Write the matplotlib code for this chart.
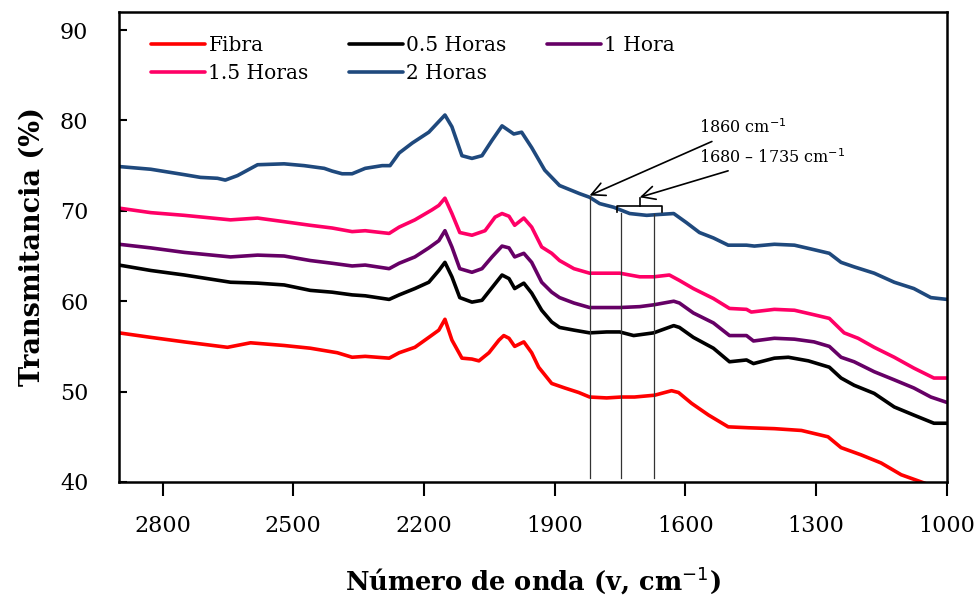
import matplotlib
matplotlib.use('Agg')
import matplotlib.pyplot as plt
import numpy as np

# # wavenumber / transmittance
fibra_x = [2900, 2827, 2750, 2651, 2598, 2521, 2461, 2399, 2365, 2335, 2280, 2257, 2221, 2189,
           2166, 2152, 2136, 2113, 2090, 2074, 2051, 2028, 2017, 2005, 1992, 1971, 1953, 1937,
           1907, 1877, 1845, 1820, 1781, 1747, 1717, 1671, 1632, 1616, 1586, 1547, 1502, 1456,
           1396, 1334, 1273, 1243, 1197, 1151, 1105, 1053, 1000]
fibra_y = [56.5, 56.0, 55.5, 54.9, 55.4, 55.1, 54.8, 54.3, 53.8, 53.9, 53.7, 54.3, 54.9, 56.0,
           56.8, 58.0, 55.7, 53.7, 53.6, 53.4, 54.3, 55.7, 56.2, 55.9, 55.0, 55.5, 54.3, 52.7,
           50.9, 50.4, 49.9, 49.4, 49.3, 49.4, 49.4, 49.6, 50.1, 49.9, 48.7, 47.4, 46.1, 46.0,
           45.9, 45.7, 45.0, 43.8, 43.0, 42.1, 40.8, 39.9, 38.9]

h05_x = [2900, 2827, 2750, 2644, 2582, 2521, 2461, 2411, 2365, 2335, 2280, 2257, 2221, 2189,
         2166, 2152, 2136, 2118, 2090, 2067, 2044, 2021, 2005, 1992, 1971, 1953, 1930, 1907,
         1889, 1856, 1820, 1781, 1751, 1719, 1673, 1627, 1614, 1582, 1536, 1499, 1460, 1444,
         1396, 1364, 1318, 1270, 1243, 1213, 1167, 1121, 1076, 1030, 1000]
h05_y = [64.0, 63.4, 62.9, 62.1, 62.0, 61.8, 61.2, 61.0, 60.7, 60.6, 60.2, 60.7, 61.4, 62.1,
         63.4, 64.3, 62.7, 60.4, 59.9, 60.1, 61.5, 62.9, 62.5, 61.4, 62.0, 60.9, 59.0, 57.7,
         57.1, 56.8, 56.5, 56.6, 56.6, 56.2, 56.5, 57.3, 57.1, 56.0, 54.8, 53.3, 53.5, 53.1,
         53.7, 53.8, 53.4, 52.7, 51.5, 50.7, 49.8, 48.3, 47.4, 46.5, 46.5]

h1_x = [2900, 2827, 2750, 2644, 2582, 2521, 2461, 2411, 2365, 2335, 2280, 2257, 2221, 2189,
        2166, 2152, 2136, 2118, 2090, 2067, 2044, 2021, 2005, 1992, 1971, 1953, 1930, 1907,
        1889, 1856, 1820, 1751, 1705, 1673, 1627, 1614, 1582, 1536, 1499, 1460, 1444, 1396,
        1350, 1305, 1270, 1243, 1213, 1167, 1121, 1076, 1037, 1000]
h1_y = [66.3, 65.9, 65.4, 64.9, 65.1, 65.0, 64.5, 64.2, 63.9, 64.0, 63.6, 64.2, 64.9, 65.9,
        66.7, 67.8, 66.0, 63.6, 63.2, 63.6, 64.9, 66.1, 65.9, 64.9, 65.3, 64.3, 62.1, 61.0,
        60.4, 59.8, 59.3, 59.3, 59.4, 59.6, 60.0, 59.8, 58.7, 57.6, 56.2, 56.2, 55.6, 55.9,
        55.8, 55.5, 55.0, 53.8, 53.3, 52.2, 51.3, 50.4, 49.4, 48.8]

h15_x = [2900, 2827, 2750, 2644, 2582, 2521, 2461, 2411, 2365, 2335, 2280, 2257, 2221, 2182,
         2166, 2152, 2136, 2118, 2090, 2060, 2037, 2021, 2005, 1992, 1971, 1953, 1930, 1907,
         1889, 1856, 1820, 1751, 1705, 1673, 1637, 1614, 1582, 1536, 1499, 1460, 1449, 1396,
         1350, 1305, 1270, 1236, 1204, 1167, 1121, 1076, 1030, 1000]
h15_y = [70.3, 69.8, 69.5, 69.0, 69.2, 68.8, 68.4, 68.1, 67.7, 67.8, 67.5, 68.2, 69.0, 70.1,
         70.6, 71.4, 69.7, 67.6, 67.3, 67.8, 69.3, 69.7, 69.4, 68.4, 69.2, 68.2, 66.0, 65.3,
         64.5, 63.6, 63.1, 63.1, 62.7, 62.7, 62.9, 62.3, 61.4, 60.3, 59.2, 59.1, 58.8, 59.1,
         59.0, 58.5, 58.1, 56.5, 55.9, 54.9, 53.8, 52.6, 51.5, 51.5]

h2_x = [2900, 2827, 2750, 2713, 2674, 2656, 2628, 2582, 2521, 2475, 2429, 2411, 2388, 2365,
        2335, 2296, 2278, 2257, 2227, 2189, 2152, 2136, 2113, 2090, 2067, 2044, 2021, 1994,
        1976, 1953, 1923, 1907, 1889, 1843, 1820, 1797, 1765, 1728, 1689, 1660, 1627, 1598,
        1568, 1536, 1502, 1460, 1442, 1396, 1350, 1305, 1270, 1243, 1213, 1167, 1121, 1076,
        1037, 1000]
h2_y = [74.9, 74.6, 74.0, 73.7, 73.6, 73.4, 73.9, 75.1, 75.2, 75.0, 74.7, 74.4, 74.1, 74.1,
        74.7, 75.0, 75.0, 76.4, 77.5, 78.7, 80.6, 79.3, 76.1, 75.8, 76.1, 77.8, 79.4, 78.5,
        78.7, 77.0, 74.5, 73.7, 72.8, 71.9, 71.5, 70.8, 70.4, 69.7, 69.5, 69.6, 69.7, 68.7,
        67.6, 67.0, 66.2, 66.2, 66.1, 66.3, 66.2, 65.7, 65.3, 64.3, 63.8, 63.1, 62.1, 61.4,
        60.4, 60.2]

labels = ['Fibra', '0.5 Horas', '1 Hora', '1.5 Horas', '2 Horas']
colors = ['#FF0000', '#000000', '#660066', '#FF0066', '#1F497D']

# annotation marks (band positions)
band_x = [1820, 1747, 1673]
band_top = [71.6, 69.8, 69.7]

serif = ['DejaVu Serif']

fig = plt.figure(figsize=(9.8, 5.96), dpi=100)
ax = fig.add_axes([0.1214, 0.1913, 0.8449, 0.7886])

series = [(fibra_x, fibra_y), (h05_x, h05_y), (h1_x, h1_y), (h15_x, h15_y), (h2_x, h2_y)]
lines = []
for (xs, ys), lab, c in zip(series, labels, colors):
    l, = ax.plot(xs, ys, color=c, lw=2.6, label=lab, solid_capstyle='round')
    lines.append(l)

# # vertical marker lines
for bx, bt in zip(band_x, band_top):
    ax.plot([bx, bx], [40.4, bt], color='#333333', lw=0.9)

# bracket for the 1680-1735 band
ax.plot([1758, 1758, 1655, 1655], [69.9, 70.5, 70.5, 69.9], color='black', lw=1.2)
ax.plot([1705, 1705], [70.5, 71.4], color='black', lw=1.2)

ax.annotate('1860 cm$^{-1}$', xy=(1820, 71.7), xytext=(1568, 79.2),
            fontsize=11.5, family=serif, va='center', ha='left',
            arrowprops=dict(arrowstyle='->', color='black', lw=1.2,
                            shrinkA=3, shrinkB=0, mutation_scale=24))
ax.annotate('1680 \u2013 1735 cm$^{-1}$', xy=(1705, 71.5), xytext=(1568, 75.9),
            fontsize=11.5, family=serif, va='center', ha='left',
            arrowprops=dict(arrowstyle='->', color='black', lw=1.2,
                            shrinkA=3, shrinkB=0, mutation_scale=24))

ax.set_xlim(2900, 1000)
ax.set_ylim(40, 92)
ax.set_xticks([2800, 2500, 2200, 1900, 1600, 1300, 1000])
ax.set_yticks([40, 50, 60, 70, 80, 90])

ax.tick_params(axis='x', direction='out', length=10, width=1.5, labelsize=16, pad=14)
ax.tick_params(axis='y', direction='in', length=6, width=1.5, labelsize=16, pad=22)
for lab in ax.get_xticklabels() + ax.get_yticklabels():
    lab.set_family(serif)
for s in ax.spines.values():
    s.set_linewidth(1.8)

ax.set_xlabel('N\u00famero de onda (v, cm$^{-1}$)', fontsize=18.5, fontweight='bold',
              family=serif, labelpad=20)
ax.set_ylabel('Transmitancia (%)', fontsize=19.5, fontweight='bold', family=serif, labelpad=10)

# legend filled row-wise
order = [0, 3, 1, 4, 2]
leg = ax.legend([lines[i] for i in order], [labels[i] for i in order], ncol=3,
                loc='upper left', bbox_to_anchor=(0.029, 0.965), frameon=False,
                handlelength=2.7, handletextpad=0.15, columnspacing=2.0,
                labelspacing=0.42, borderaxespad=0,
                prop={'family': serif, 'size': 14.5})

fig.savefig('out.png', dpi=100)
